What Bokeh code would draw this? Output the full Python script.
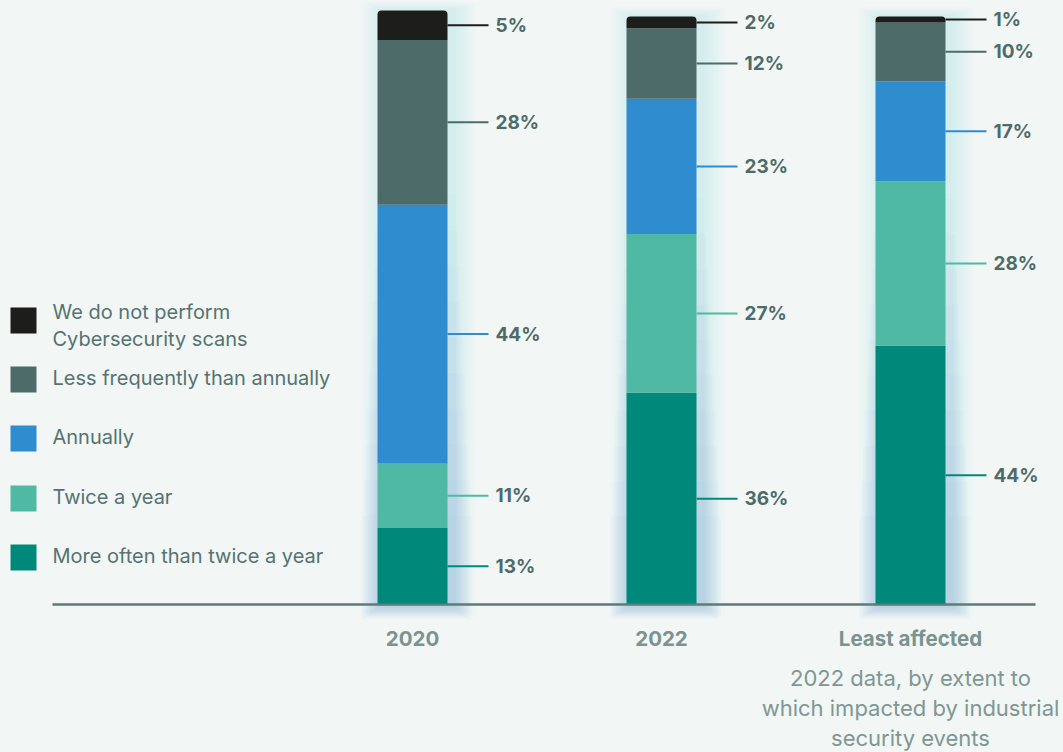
from bokeh.plotting import figure
from bokeh.models import Range1d
from bokeh.core.properties import value
from bokeh.embed import file_html
from bokeh.resources import INLINE

# ---- data ----
categories = ["2020", "2022", "Least affected"]
more_often = [13, 36, 44]
twice_year = [11, 27, 28]
annually = [44, 23, 17]
less_freq = [28, 12, 10]
no_scans = [5, 2, 1]
series = [more_often, twice_year, annually, less_freq, no_scans]
series_colors = ["#00897a", "#4fb9a3", "#2f8ccf", "#4d6b69", "#1d1d1b"]
legend_labels = [
    ["More often than twice a year"],
    ["Twice a year"],
    ["Annually"],
    ["Less frequently than annually"],
    ["We do not perform", "Cybersecurity scans"],
]
subtitle_lines = ["2022 data, by extent to", "which impacted by industrial", "security events"]

BG = "#f2f6f5"
FONT = value("Inter")

W, H = 1063, 752
XS = 249.0   # px per category
YS = 5.88    # px per percent
CX0 = 412    # page px of first category
BASE = 604   # page px of zero line
OFF = 0      # page offset of the figure


def dx(px):
    return (px - CX0) / XS


def dy(py):
    return (BASE - py) / YS


p = figure(width=W, height=H,
           x_range=Range1d(dx(OFF), dx(OFF + W)),
           y_range=Range1d(dy(OFF + H), dy(OFF)),
           output_backend="svg", toolbar_location=None,
           x_axis_type=None, y_axis_type=None, min_border=0)
p.grid.visible = False
p.outline_line_color = None
p.background_fill_color = BG
p.border_fill_color = BG

bw = 70 / XS
idx = list(range(len(categories)))
totals = [sum(s[i] for s in series) for i in idx]

# ---- soft glow behind bars (cyan overall, blue toward the bottom) ----
for i in idx:
    top = totals[i]
    for k in range(1, 9):
        pad = k * 2.8
        p.quad(left=[i - bw / 2 - pad / XS + 6 / XS], right=[i + bw / 2 + pad / XS + 6 / XS],
               bottom=[-pad * 0.5 / YS], top=[top + pad * 0.4 / YS],
               fill_color="#72e2d6", fill_alpha=0.03, line_color=None)
    for j in range(10):
        h = top * (0.15 + 0.06 * j)
        pad = 4 + (9 - j) * 1.8
        p.quad(left=[i - bw / 2 - pad / XS + 4 / XS], right=[i + bw / 2 + pad / XS + 4 / XS],
               bottom=[-(4 + (9 - j) * 1.2) / YS], top=[h],
               fill_color="#6e9ce9", fill_alpha=0.028, line_color=None)

# ---- stacked bars ----
bottoms = [0.0] * len(idx)
for si, (vals, col) in enumerate(zip(series, series_colors)):
    tops = [b + v for b, v in zip(bottoms, vals)]
    radius = (4, 4, 0, 0) if si == len(series) - 1 else 0
    p.vbar(x=idx, width=bw, bottom=bottoms, top=tops, fill_color=col,
           line_color=None, border_radius=radius)
    mids = [(b + t) / 2 for b, t in zip(bottoms, tops)]
    p.segment(x0=[i + bw / 2 for i in idx], x1=[i + bw / 2 + 41 / XS for i in idx],
              y0=mids, y1=mids, line_color=col, line_width=2)
    p.text(x=[i + bw / 2 + 48 / XS for i in idx], y=mids,
           text=[f"{v}%" for v in vals], text_font=FONT, text_font_size="19px",
           text_font_style="bold", text_baseline="middle", text_align="left",
           text_color="#4f6b69")
    bottoms = tops

# ---- baseline ----
p.segment(x0=[dx(52)], x1=[dx(1035)], y0=[0], y1=[0], line_color="#5f7a77", line_width=2.5)

# ---- category labels ----
p.text(x=idx, y=[dy(638)] * len(idx), text=categories, text_font=FONT,
       text_font_size="20.5px", text_font_style="bold", text_align="center",
       text_baseline="middle", text_color="#7a9390")
p.text(x=[2] * len(subtitle_lines), y=[dy(677 + 30 * k) for k in range(len(subtitle_lines))],
       text=subtitle_lines, text_font=FONT, text_font_size="22px",
       text_align="center", text_baseline="middle", text_color="#7f9794")

# ---- legend ----
legend_sq_y = [557, 498, 438, 379, 320]
for lines, col, ly in zip(legend_labels, series_colors, legend_sq_y):
    p.quad(left=[dx(10)], right=[dx(36)], top=[dy(ly - 13)], bottom=[dy(ly + 13)],
           fill_color=col, line_color=None)
    if len(lines) == 1:
        ys = [ly - 2]
    else:
        ys = [ly - 9, ly + 18]
    p.text(x=[dx(52)] * len(lines), y=[dy(v) for v in ys], text=lines, text_font=FONT,
           text_font_size="20px", text_align="left", text_baseline="middle",
           text_color="#557370")

html = file_html(p, INLINE)
html = html.replace("</head>", "<style>body{background:%s;}</style></head>" % BG)
open("out.html", "w").write(html)
